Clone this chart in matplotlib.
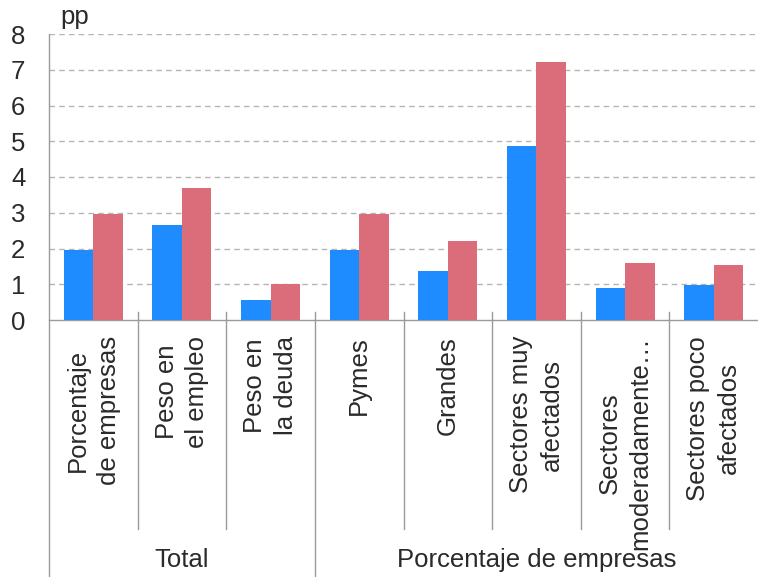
import numpy as np
import matplotlib
matplotlib.use("Agg")
import matplotlib.pyplot as plt
import matplotlib.transforms as mtransforms

categories = ["Porcentaje\nde empresas", "Peso en\nel empleo", "Peso en\nla deuda",
              "Pymes", "Grandes", "Sectores muy\nafectados",
              "Sectores\nmoderadamente…", "Sectores poco\nafectados"]
groups = ["Total", "Porcentaje de empresas"]
group_sizes = [3, 5]
series_blue = [1.95, 2.65, 0.56, 1.96, 1.37, 4.87, 0.90, 0.99]
series_red = [2.96, 3.68, 1.00, 2.96, 2.20, 7.21, 1.60, 1.55]
yticks = [0, 1, 2, 3, 4, 5, 6, 7, 8]

BLUE = "#1E8CFF"
RED = "#DB6C7A"
GRAY = "#9a9a9a"
TXT = "#2a2a2a"
FS = 18.5

plt.rcParams['font.family'] = ['Liberation Sans', 'DejaVu Sans']

fig = plt.figure(figsize=(7.58, 5.77), dpi=100)
ax = fig.add_axes([49/758, 1-320/577, 1-49/758, 286/577])

x = np.arange(len(categories))
w = 0.333
ax.bar(x - w/2, series_blue, width=w, color=BLUE, zorder=3)
ax.bar(x + w/2, series_red, width=w, color=RED, zorder=3)

ax.set_xlim(-0.5, len(categories) - 0.5)
ax.set_ylim(0, 8)
ax.set_yticks(yticks)
ax.set_yticklabels([str(t) for t in yticks], fontsize=FS, color=TXT)
ax.tick_params(axis='y', length=0, pad=17)
ax.set_xticks([])

for t in yticks[1:]:
    ax.axhline(t, color="#b5b5b5", lw=1, ls=(0, (4, 3)), zorder=1)

for s in ["top", "right"]:
    ax.spines[s].set_visible(False)
ax.spines["left"].set_visible(False)
ax.spines["bottom"].set_color(GRAY)
ax.spines["bottom"].set_linewidth(1)

trans = mtransforms.blended_transform_factory(ax.transData, ax.transAxes)

# left spine extended to bottom
ax.plot([-0.5, -0.5], [-1.0, 1.0], transform=trans, color=GRAY, lw=1, clip_on=False, zorder=4)

# separators
bounds = np.cumsum([0] + group_sizes)
group_edges = set((bounds - 0.5).tolist())
for i in range(1, len(categories)):
    xb = i - 0.5
    if xb in group_edges:
        ax.plot([xb, xb], [0.028, -1.0], transform=trans, color=GRAY, lw=1, clip_on=False)
    else:
        ax.plot([xb, xb], [0.028, -0.731], transform=trans, color=GRAY, lw=1, clip_on=False)

for i, lab in enumerate(categories):
    ax.text(i, -0.056, lab, transform=trans, rotation=90, ha='center', va='top',
            multialignment='center', fontsize=FS, color=TXT, linespacing=1.35)

for g, (a, b) in enumerate(zip(bounds[:-1], bounds[1:])):
    xc = (a - 0.5 + b - 0.5) / 2
    ax.text(xc, -0.84, groups[g], transform=trans, ha='center', va='center',
            fontsize=FS, color=TXT)

fig.text(60/758, 1-17/577, "pp", ha='left', va='center', fontsize=FS, color=TXT)

fig.savefig("out.png", dpi=100)
